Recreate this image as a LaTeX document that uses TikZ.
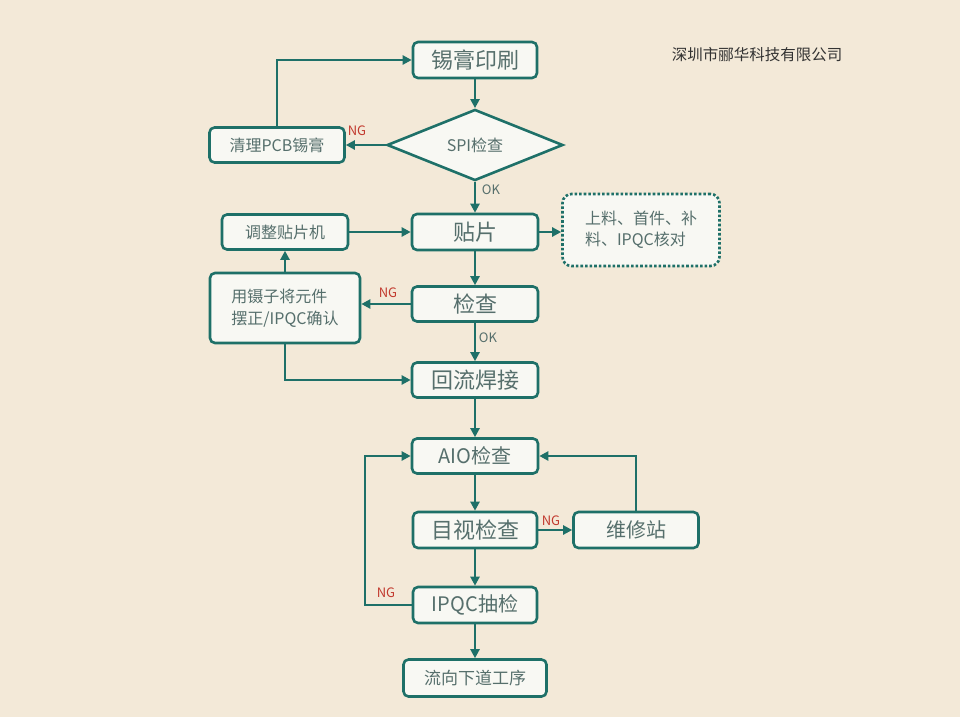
\documentclass[tikz,border=0pt]{standalone}
\usepackage{fontspec}
\setmainfont{Noto Sans CJK SC}
\usetikzlibrary{shapes.geometric,arrows.meta}
\definecolor{bg}{HTML}{F3E9D8}
\definecolor{edge}{HTML}{1E7068}
\definecolor{boxfill}{HTML}{F8F8F3}
\definecolor{boxtext}{HTML}{566F6C}
\definecolor{ngred}{HTML}{C23A2E}
\begin{document}
\begin{tikzpicture}[x=1pt,y=-1pt,
  box/.style={draw=edge, line width=2.6pt, rounded corners=5pt, fill=boxfill, text=boxtext, inner sep=0pt, align=center},
  arr/.style={draw=edge, line width=2.6pt, -{Triangle[length=9pt,width=9pt]}},
  lbl/.style={font=\fontsize{13}{13}\selectfont, text=boxtext},
  ng/.style={font=\fontsize{13}{13}\selectfont, text=ngred}]
\fill[bg] (0,0) rectangle (960,717);
\useasboundingbox (0,0) rectangle (960,717);

\node[box, minimum width=124pt, minimum height=36pt, font=\fontsize{22}{22}\selectfont] (print) at (475,60) {锡膏印刷};
\node[box, diamond, rounded corners=0pt, minimum width=176pt, minimum height=55pt, font=\fontsize{16}{16}\selectfont] (spi) at (475,145) {SPI检查};
\node[box, minimum width=135pt, minimum height=35pt, font=\fontsize{16}{16}\selectfont] (clean) at (277,145) {清理PCB锡膏};
\node[box, minimum width=126pt, minimum height=36pt, font=\fontsize{22}{22}\selectfont] (place) at (475,232) {贴片};
\node[box, minimum width=126pt, minimum height=35pt, font=\fontsize{16}{16}\selectfont] (adjust) at (285,232) {调整贴片机};
\node[box, dotted, line width=2.6pt, rounded corners=9pt, minimum width=157pt, minimum height=72pt, align=left, font=\fontsize{16}{21}\selectfont] (note) at (641,230) {上料、首件、补\\料、IPQC核对};
\node[box, minimum width=126pt, minimum height=35pt, font=\fontsize{22}{22}\selectfont] (check) at (475,304) {检查};
\node[box, minimum width=150pt, minimum height=70pt, align=left, font=\fontsize{16}{22}\selectfont] (fix) at (285,308) {用镊子将元件\\摆正/IPQC确认};
\node[box, minimum width=126pt, minimum height=35pt, font=\fontsize{22}{22}\selectfont] (reflow) at (475,380) {回流焊接};
\node[box, minimum width=126pt, minimum height=35pt, font=\fontsize{20}{20}\selectfont] (aio) at (475,456) {AIO检查};
\node[box, minimum width=124pt, minimum height=36pt, font=\fontsize{22}{22}\selectfont] (visual) at (475,530) {目视检查};
\node[box, minimum width=125pt, minimum height=36pt, font=\fontsize{20}{20}\selectfont] (repair) at (636,530) {维修站};
\node[box, minimum width=124pt, minimum height=36pt, font=\fontsize{20}{20}\selectfont] (ipqc) at (475,605) {IPQC抽检};
\node[box, minimum width=143pt, minimum height=37pt, font=\fontsize{17}{17}\selectfont] (next) at (475,678) {流向下道工序};

\node[font=\fontsize{15.5}{15.5}\selectfont, text=black!80] (company) at (757,55) {深圳市郦华科技有限公司};

\coordinate (loopL) at (365,605);

\draw[arr] (print.south) -- (spi.north);
\draw[arr] (spi.west) -- (clean.east);
\node[ng] (ng1) at (357,131) {NG};
\draw[arr] (clean.north) |- (print.west);
\draw[arr] (spi.south) -- (place.north);
\node[lbl] (ok1) at (491,190) {OK};
\draw[arr] (adjust.east) -- (place.west);
\draw[arr] (place.east) -- (place.east -| note.west);
\draw[arr] (place.south) -- (check.north);
\draw[arr] (check.west) -- (check.west -| fix.east);
\node[ng] (ng2) at (388,293) {NG};
\draw[arr] (fix.north) -- (adjust.south);
\draw[arr] (check.south) -- (reflow.north);
\node[lbl] (ok2) at (488,338) {OK};
\draw[arr] (fix.south) |- (reflow.west);
\draw[arr] (reflow.south) -- (aio.north);
\draw[arr] (aio.south) -- (visual.north);
\draw[arr] (visual.south) -- (ipqc.north);
\draw[arr] (ipqc.south) -- (next.north);
\draw[arr] (visual.east) -- (repair.west);
\node[ng] (ng3) at (551,521) {NG};
\draw[arr] (repair.north) |- (aio.east);
\draw[arr] (ipqc.west) -- (loopL) |- (aio.west);
\node[ng] (ng4) at (386,593) {NG};
\end{tikzpicture}
\end{document}
